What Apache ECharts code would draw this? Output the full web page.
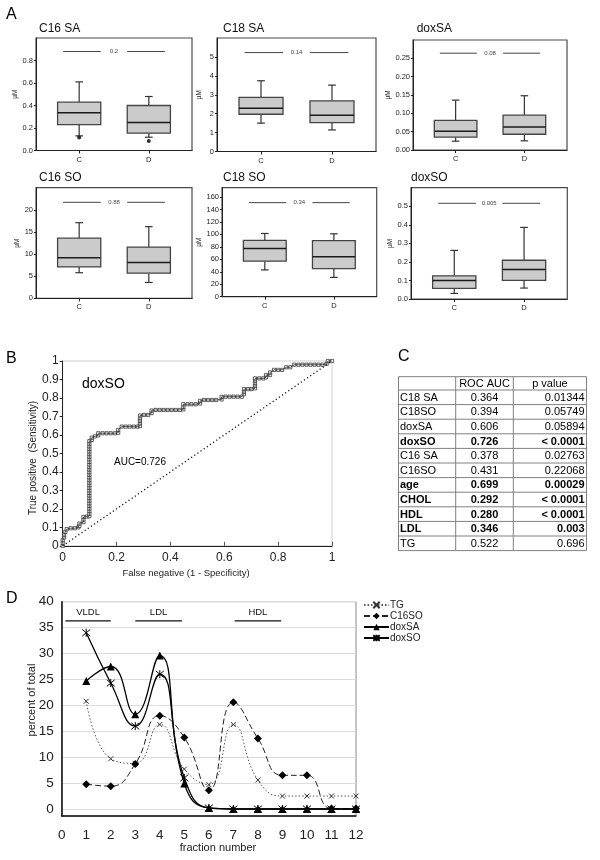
<!DOCTYPE html>
<html><head><meta charset="utf-8">
<script src="https://cdn.jsdelivr.net/npm/echarts@6/dist/echarts.min.js"></script>
<style>html,body{margin:0;padding:0;background:#fff}#c{width:600px;height:860px}</style>
</head><body><div id="c"></div>
<script>
const FONT = '"Liberation Sans", Arial, Helvetica, sans-serif';

// ---------- Panel A data: [min, Q1, median, Q3, max] ----------
const groups = ['C', 'D'];
const panelTitles = ['C16 SA', 'C18 SA', 'doxSA', 'C16 SO', 'C18 SO', 'doxSO'];
const c16saC = [0.13, 0.23, 0.335, 0.43, 0.61];
const c16saD = [0.118, 0.155, 0.25, 0.40, 0.48];
const c16saOutliers = [[1, 0.115], [2, 0.085]];
const c18saC = [1.5, 1.97, 2.28, 2.86, 3.74];
const c18saD = [1.14, 1.53, 1.92, 2.68, 3.51];
const doxsaC = [0.024, 0.035, 0.051, 0.081, 0.136];
const doxsaD = [0.025, 0.043, 0.063, 0.095, 0.148];
const c16soC = [5.8, 7.1, 9.2, 13.6, 17.1];
const c16soD = [3.6, 5.7, 8.1, 11.6, 16.2];
const c18soC = [43, 57, 77.5, 90.5, 101.5];
const c18soD = [31, 45, 64, 90, 101];
const doxsoC = [0.03, 0.057, 0.1, 0.125, 0.262];
const doxsoD = [0.059, 0.1, 0.159, 0.209, 0.386];
const pLabels = ['0.2', '0.14', '0.08', '0.88', '0.34', '0.005'];
const pLevels = [0.88, 5.23, 0.264, 21.7, 151, 0.516];
const boxSets = [[c16saC, c16saD], [c18saC, c18saD], [doxsaC, doxsaD], [c16soC, c16soD], [c18soC, c18soD], [doxsoC, doxsoD]];

// ---------- Panel B data: ROC curve points [FPR, TPR] ----------
const rocPoints = [[0,0],[0,0.015],[0,0.03],[0.005,0.045],[0.005,0.06],[0.01,0.075],[0.015,0.09],[0.03,0.095],[0.045,0.095],[0.058,0.1],[0.062,0.108],[0.062,0.12],[0.077,0.128],[0.077,0.142],[0.077,0.156],[0.09,0.158],[0.099,0.16],
[0.099,0.174],[0.099,0.188],[0.099,0.202],[0.099,0.216],[0.099,0.23],[0.099,0.244],[0.099,0.258],[0.099,0.272],[0.099,0.286],[0.099,0.3],[0.099,0.314],[0.099,0.328],[0.099,0.342],[0.099,0.356],[0.099,0.37],[0.099,0.384],[0.099,0.398],[0.099,0.412],[0.099,0.426],[0.099,0.44],[0.099,0.454],[0.099,0.468],[0.099,0.482],[0.099,0.496],[0.099,0.51],[0.099,0.524],[0.099,0.538],[0.099,0.552],[0.099,0.566],
[0.108,0.573],[0.108,0.585],[0.12,0.592],[0.132,0.598],[0.132,0.609],[0.148,0.609],[0.163,0.609],[0.178,0.609],[0.194,0.609],[0.206,0.612],[0.206,0.627],[0.219,0.645],[0.234,0.645],[0.249,0.645],[0.264,0.645],[0.278,0.645],[0.287,0.648],[0.287,0.662],[0.287,0.676],[0.287,0.69],[0.287,0.705],[0.302,0.708],[0.317,0.708],[0.33,0.718],[0.33,0.732],[0.345,0.735],[0.36,0.735],[0.375,0.735],[0.39,0.735],[0.405,0.735],[0.42,0.735],[0.435,0.735],[0.448,0.738],[0.448,0.752],[0.448,0.766],[0.463,0.766],[0.478,0.766],[0.494,0.766],[0.51,0.77],[0.51,0.784],[0.525,0.789],[0.54,0.789],[0.555,0.789],[0.57,0.789],[0.59,0.792],[0.59,0.806],[0.605,0.807],[0.62,0.807],[0.635,0.807],[0.65,0.807],[0.665,0.807],[0.673,0.82],[0.673,0.834],[0.673,0.848],[0.688,0.848],[0.701,0.848],[0.714,0.852],[0.714,0.866],[0.714,0.88],[0.714,0.894],[0.714,0.906],[0.73,0.906],[0.745,0.906],[0.755,0.912],[0.755,0.924],[0.77,0.924],[0.77,0.938],[0.785,0.952],[0.8,0.952],[0.815,0.952],[0.83,0.966],[0.845,0.966],[0.86,0.98],[0.875,0.98],[0.89,0.98],[0.905,0.98],[0.92,0.98],[0.935,0.98],[0.95,0.98],[0.965,0.98],[0.98,0.985],[0.985,1],[1,1]];
const chanceLine = [[0, 0], [1, 1]];
const rocLabel = 'doxSO';
const aucText = 'AUC=0.726';

// ---------- Panel C data: table ----------
const tableHeader = ['', 'ROC AUC', 'p value'];
const tableRows = ['C18 SA', 'C18SO', 'doxSA', 'doxSO', 'C16 SA', 'C16SO', 'age', 'CHOL', 'HDL', 'LDL', 'TG'];
const rocAuc = ['0.364', '0.394', '0.606', '0.726', '0.378', '0.431', '0.699', '0.292', '0.280', '0.346', '0.522'];
const pValue = ['0.01344', '0.05749', '0.05894', '< 0.0001', '0.02763', '0.22068', '0.00029', '< 0.0001', '< 0.0001', '0.003', '0.696'];
const boldRow = [false, false, false, true, false, false, true, true, true, true, false];

// ---------- Panel D data ----------
const fractions = [1, 2, 3, 4, 5, 6, 7, 8, 9, 10, 11, 12];
const tgValues = [20.8, 9.7, 8.8, 16.3, 7.7, 4.7, 16.3, 5.6, 2.5, 2.5, 2.5, 2.5];
const c16soValues = [4.8, 4.4, 8.7, 18.0, 13.8, 3.6, 20.6, 13.6, 6.5, 6.5, 0.1, 0.1];
const doxsaValues = [24.7, 27.5, 18.3, 29.6, 4.9, 0.2, 0, 0, 0, 0, 0, 0];
const doxsoValues = [34.0, 24.3, 16.0, 26.0, 6.0, 0.2, 0, 0, 0, 0, 0, 0];
const yTicksD = [0, 5, 10, 15, 20, 25, 30, 35, 40];
const lipoNames = ['VLDL', 'LDL', 'HDL'];
const lipoStart = [0.15, 3.0, 7.05];
const lipoEnd = [2.0, 4.9, 8.95];
const lipoLevel = 36.3;

// ---------- layout ----------
const aGrids = [
  {left: 36, top: 38, width: 156, height: 112.5},
  {left: 217, top: 38, width: 159, height: 113.5},
  {left: 413, top: 40, width: 154, height: 110},
  {left: 36, top: 187.7, width: 156, height: 110.7},
  {left: 222, top: 187.7, width: 154.7, height: 109},
  {left: 411, top: 187.7, width: 156.3, height: 111.3}
];
const aYMax = [1.0, 6, 0.3, 25, 175, 0.6];
const aYInt = [0.2, 1, 0.05, 5, 20, 0.1];
const aDigits = [1, 0, 2, 0, 0, 1];
const aTitlePos = [[39, 30], [223, 30], [416.7, 30], [39, 179], [223, 179], [411, 179]];

const grids = [], xAxes = [], yAxes = [], series = [], graphics = [];
const ink = '#222';

function boxRender(params, api) {
  const x = api.value(0);
  const lo = api.coord([x, api.value(1)]);
  const q1 = api.coord([x, api.value(2)]);
  const med = api.coord([x, api.value(3)]);
  const q3 = api.coord([x, api.value(4)]);
  const hi = api.coord([x, api.value(5)]);
  const hw = api.size([0.31, 0])[0];
  const cw = api.size([0.055, 0])[0];
  const cx = lo[0];
  const ws = {stroke: '#333', lineWidth: 1.2};
  return {type: 'group', children: [
    {type: 'line', shape: {x1: cx, y1: q3[1], x2: cx, y2: hi[1]}, style: ws},
    {type: 'line', shape: {x1: cx - cw, y1: hi[1], x2: cx + cw, y2: hi[1]}, style: ws},
    {type: 'line', shape: {x1: cx, y1: q1[1], x2: cx, y2: lo[1]}, style: ws},
    {type: 'line', shape: {x1: cx - cw, y1: lo[1], x2: cx + cw, y2: lo[1]}, style: ws},
    {type: 'rect', shape: {x: cx - hw, y: q3[1], width: 2 * hw, height: q1[1] - q3[1]}, style: {fill: '#cbcbcb', stroke: '#444', lineWidth: 1.3}},
    {type: 'line', shape: {x1: cx - hw, y1: med[1], x2: cx + hw, y2: med[1]}, style: {stroke: '#1a1a1a', lineWidth: 1.5}}
  ]};
}

for (let i = 0; i < 6; i++) {
  grids.push(Object.assign({show: true, borderColor: '#4a4a4a', borderWidth: 1.2, backgroundColor: 'transparent'}, aGrids[i]));
  xAxes.push({
    type: 'value', gridIndex: i, min: 0.38, max: 2.62,
    axisLine: {show: true, onZero: false, lineStyle: {color: ink, width: 1}},
    axisTick: {show: true, customValues: [1, 2], length: 3, lineStyle: {color: ink}},
    axisLabel: {customValues: [1, 2], formatter: v => groups[Math.round(v) - 1], fontSize: 7.5, color: ink, margin: 5, fontFamily: FONT},
    splitLine: {show: false}
  });
  const dg = aDigits[i];
  yAxes.push({
    type: 'value', gridIndex: i, min: 0, max: aYMax[i], interval: aYInt[i],
    axisLine: {show: true, onZero: false, lineStyle: {color: ink, width: 1}},
    axisTick: {show: true, length: 2, lineStyle: {color: ink}},
    axisLabel: {fontSize: 7.5, color: ink, margin: 3, showMaxLabel: false, fontFamily: FONT, formatter: v => v.toFixed(dg)},
    splitLine: {show: false},
    name: 'µM', nameLocation: 'middle', nameGap: 14, nameTextStyle: {fontSize: 6.5, color: ink, fontFamily: FONT}
  });
  const bs = boxSets[i];
  series.push({
    type: 'custom', xAxisIndex: i, yAxisIndex: i, renderItem: boxRender, clip: false,
    encode: {x: 0, y: [1, 2, 3, 4, 5]},
    data: [[1].concat(bs[0]), [2].concat(bs[1])]
  });
  const pl = pLabels[i];
  series.push({
    type: 'custom', xAxisIndex: i, yAxisIndex: i, clip: false,
    encode: {x: 0, y: 1},
    data: [[1.5, pLevels[i]]],
    renderItem: (params, api) => {
      const y = api.value(1);
      const a = api.coord([0.77, y]), b = api.coord([1.31, y]);
      const c = api.coord([1.69, y]), d = api.coord([2.23, y]);
      const m = api.coord([1.5, y]);
      const st = {stroke: '#444', lineWidth: 1};
      return {type: 'group', children: [
        {type: 'line', shape: {x1: a[0], y1: a[1], x2: b[0], y2: b[1]}, style: st},
        {type: 'line', shape: {x1: c[0], y1: c[1], x2: d[0], y2: d[1]}, style: st},
        {type: 'text', x: m[0], y: m[1], style: {text: pl, fontSize: 6, fontFamily: FONT, fill: '#444', align: 'center', verticalAlign: 'middle'}}
      ]};
    }
  });
  graphics.push({type: 'text', left: aTitlePos[i][0], top: aTitlePos[i][1] - 7, style: {text: panelTitles[i], fontSize: 12, fontFamily: FONT, fill: '#111'}});
}
series.push({type: 'scatter', xAxisIndex: 0, yAxisIndex: 0, data: c16saOutliers, symbol: 'circle', symbolSize: 4, itemStyle: {color: '#000'}, clip: false});

// ---------- Panel B ----------
grids.push({left: 62.7, top: 361, width: 269.3, height: 184.8, show: true, borderColor: '#cfcfcf', borderWidth: 1, backgroundColor: 'transparent'});
xAxes.push({
  type: 'value', gridIndex: 6, min: 0, max: 1, interval: 0.2,
  axisLine: {show: true, onZero: false, lineStyle: {color: ink, width: 1}},
  axisTick: {show: true, inside: true, length: 4, lineStyle: {color: '#555'}},
  axisLabel: {fontSize: 12, color: ink, margin: 6, fontFamily: FONT},
  splitLine: {show: false}
});
yAxes.push({
  type: 'value', gridIndex: 6, min: 0, max: 1, interval: 0.1,
  axisLine: {show: true, onZero: false, lineStyle: {color: ink, width: 1}},
  axisTick: {show: true, length: 3, lineStyle: {color: ink}},
  axisLabel: {fontSize: 12, color: ink, margin: 4, fontFamily: FONT},
  splitLine: {show: false}
});
series.push({
  type: 'line', xAxisIndex: 6, yAxisIndex: 6, data: chanceLine, symbol: 'none',
  lineStyle: {color: '#111', width: 1.3, type: [1.2, 2.6]}, silent: true
});
series.push({
  type: 'line', xAxisIndex: 6, yAxisIndex: 6, data: rocPoints, showSymbol: false, symbol: 'none',
  lineStyle: {color: '#333', width: 0.8}, clip: false
});
series.push({
  type: 'scatter', xAxisIndex: 6, yAxisIndex: 6, data: rocPoints, symbol: 'rect', symbolSize: 3.2,
  itemStyle: {color: '#fff', borderColor: '#222', borderWidth: 0.7, opacity: 1}, clip: false
});

// ---------- Panel D ----------
grids.push({left: 61.7, top: 601.7, width: 294.3, height: 214.3, show: true, borderColor: '#8a8a8a', borderWidth: 1, backgroundColor: 'transparent'});
xAxes.push({
  type: 'value', gridIndex: 7, min: 0, max: 12, interval: 1,
  axisLine: {show: true, onZero: false, lineStyle: {color: '#111', width: 1.5}},
  axisTick: {show: false},
  axisLabel: {fontSize: 13.5, color: ink, margin: 12, fontFamily: FONT},
  splitLine: {show: false}
});
yAxes.push({
  type: 'value', gridIndex: 7, min: -1.35, max: 40,
  axisLine: {show: true, onZero: false, lineStyle: {color: '#111', width: 1.5}},
  axisTick: {show: false, customValues: yTicksD},
  axisLabel: {customValues: yTicksD, fontSize: 13.5, color: ink, margin: 8, fontFamily: FONT},
  splitLine: {show: true, lineStyle: {color: '#dcdcdc', width: 1}}
});
const pair = arr => fractions.map((f, k) => [f, arr[k]]);
const xPath = 'path://M0,0L10,10M10,0L0,10';
const starPath = 'path://M0,0L10,10M10,0L0,10M5,-1L5,11';
series.push({
  name: 'TG', type: 'line', xAxisIndex: 7, yAxisIndex: 7, data: pair(tgValues), smooth: 0.5,
  symbol: xPath, symbolSize: 5, lineStyle: {color: '#555', width: 1, type: [1.5, 2]},
  itemStyle: {color: 'transparent', borderColor: '#333', borderWidth: 1}, clip: false
});
series.push({
  name: 'C16SO', type: 'line', xAxisIndex: 7, yAxisIndex: 7, data: pair(c16soValues), smooth: 0.5,
  symbol: 'diamond', symbolSize: 8, lineStyle: {color: '#222', width: 1, type: [6, 3]},
  itemStyle: {color: '#000'}, clip: false
});
series.push({
  name: 'doxSA', type: 'line', xAxisIndex: 7, yAxisIndex: 7, data: pair(doxsaValues), smooth: 0.5,
  symbol: 'triangle', symbolSize: 8, lineStyle: {color: '#000', width: 1.3},
  itemStyle: {color: '#000'}, clip: false
});
series.push({
  name: 'doxSO', type: 'line', xAxisIndex: 7, yAxisIndex: 7, data: pair(doxsoValues), smooth: 0.5,
  symbol: starPath, symbolSize: 8, lineStyle: {color: '#000', width: 1.3},
  itemStyle: {color: 'transparent', borderColor: '#000', borderWidth: 1}, clip: false
});
series.push({
  type: 'custom', xAxisIndex: 7, yAxisIndex: 7, clip: false, silent: true,
  encode: {x: [0, 1], y: 2},
  data: lipoNames.map((n, k) => [lipoStart[k], lipoEnd[k], lipoLevel, k]),
  renderItem: (params, api) => {
    const a = api.coord([api.value(0), api.value(2)]);
    const b = api.coord([api.value(1), api.value(2)]);
    return {type: 'group', children: [
      {type: 'line', shape: {x1: a[0], y1: a[1], x2: b[0], y2: b[1]}, style: {stroke: '#111', lineWidth: 1.3}},
      {type: 'text', x: (a[0] + b[0]) / 2, y: a[1] - 9, style: {text: lipoNames[api.value(3)], fontSize: 9.5, fontFamily: FONT, fill: '#111', align: 'center', verticalAlign: 'middle'}}
    ]};
  }
});

// ---------- graphics: panel letters, labels, table ----------
const letter = (t, x, y) => ({type: 'text', left: x, top: y, style: {text: t, fontSize: 16, fontFamily: FONT, fill: '#000'}});
graphics.push(letter('A', 6, 7), letter('B', 6, 351), letter('C', 398, 349), letter('D', 6, 591));
graphics.push({type: 'text', left: 82, top: 377, style: {text: rocLabel, fontSize: 14, fontFamily: FONT, fill: '#000'}});
graphics.push({type: 'text', left: 114, top: 457, style: {text: aucText, fontSize: 10, fontFamily: FONT, fill: '#000'}});
graphics.push({type: 'text', x: 33, y: 458, rotation: Math.PI / 2, style: {text: 'True positive  (Sensitivity)', fontSize: 10, fontFamily: FONT, fill: ink, align: 'center', verticalAlign: 'middle'}});
graphics.push({type: 'text', x: 186, y: 573, style: {text: 'False negative (1 - Specificity)', fontSize: 9.5, fontFamily: FONT, fill: ink, align: 'center', verticalAlign: 'middle'}});
graphics.push({type: 'text', x: 31.7, y: 700, rotation: Math.PI / 2, style: {text: 'percent of total', fontSize: 11, fontFamily: FONT, fill: ink, align: 'center', verticalAlign: 'middle'}});
graphics.push({type: 'text', x: 218, y: 848, style: {text: 'fraction number', fontSize: 11, fontFamily: FONT, fill: ink, align: 'center', verticalAlign: 'middle'}});

// table
const tx = [398.5, 455.7, 513.3, 586.5];
const tTop = 376.7, hH = 13.3, rH = 14.6;
const nRows = tableRows.length;
const tBottom = tTop + hH + nRows * rH;
const lineSt = {stroke: '#808080', lineWidth: 1};
tx.forEach(x => graphics.push({type: 'line', shape: {x1: x, y1: tTop, x2: x, y2: tBottom}, style: lineSt}));
for (let r = 0; r <= nRows + 1; r++) {
  const y = r === 0 ? tTop : tTop + hH + (r - 1) * rH;
  graphics.push({type: 'line', shape: {x1: tx[0], y1: y, x2: tx[3], y2: y}, style: lineSt});
}
graphics.push({type: 'text', x: (tx[1] + tx[2]) / 2, y: tTop + hH / 2 + 0.5, style: {text: tableHeader[1], fontSize: 11, fontFamily: FONT, fill: '#000', align: 'center', verticalAlign: 'middle'}});
graphics.push({type: 'text', x: (tx[2] + tx[3]) / 2, y: tTop + hH / 2 + 1, style: {text: tableHeader[2], fontSize: 11, fontFamily: FONT, fill: '#000', align: 'center', verticalAlign: 'middle'}});
for (let r = 0; r < nRows; r++) {
  const yc = tTop + hH + r * rH + rH / 2 + 0.5;
  const fw = boldRow[r] ? 'bold' : 'normal';
  graphics.push({type: 'text', x: tx[0] + 1.5, y: yc, style: {text: tableRows[r], fontSize: 11, fontWeight: fw, fontFamily: FONT, fill: '#000', align: 'left', verticalAlign: 'middle'}});
  graphics.push({type: 'text', x: (tx[1] + tx[2]) / 2, y: yc, style: {text: rocAuc[r], fontSize: 11, fontWeight: fw, fontFamily: FONT, fill: '#000', align: 'center', verticalAlign: 'middle'}});
  graphics.push({type: 'text', x: tx[3] - 2, y: yc, style: {text: pValue[r], fontSize: 11, fontWeight: fw, fontFamily: FONT, fill: '#000', align: 'right', verticalAlign: 'middle'}});
}

const chart = echarts.init(document.getElementById('c'), null, {renderer: 'canvas'});
chart.setOption({
  animation: false,
  backgroundColor: '#fff',
  textStyle: {fontFamily: FONT},
  grid: grids,
  xAxis: xAxes,
  yAxis: yAxes,
  legend: {
    data: ['TG', 'C16SO', 'doxSA', 'doxSO'], orient: 'vertical', left: 363, top: 600,
    itemWidth: 25, itemHeight: 8, itemGap: 1, padding: 0, selectedMode: false,
    textStyle: {fontSize: 10, color: ink, fontFamily: FONT, padding: [0, 0, 0, -4]}
  },
  tooltip: {show: false},
  series: series,
  graphic: graphics
});
</script>
</body></html>
